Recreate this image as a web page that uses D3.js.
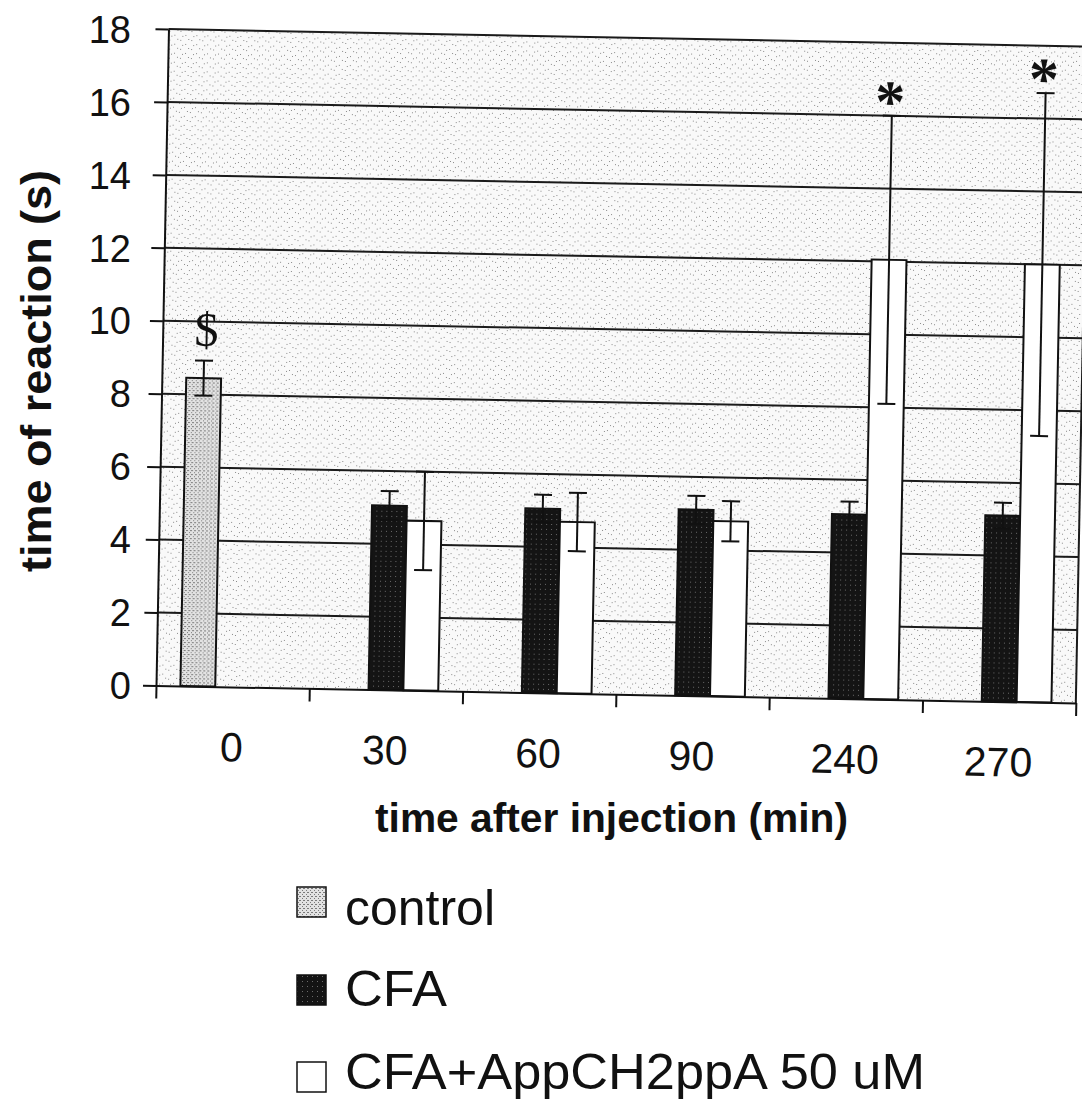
<!DOCTYPE html>
<html>
<head>
<meta charset="utf-8">
<script src="https://cdn.jsdelivr.net/npm/d3@7"></script>
<style>
  html, body { margin: 0; padding: 0; background: #fff; }
  svg { display: block; }
</style>
</head>
<body>
<svg id="chart" width="1082" height="1102"></svg>
<script>
// ---------------- data ----------------
const categories = ["0", "30", "60", "90", "240", "270"];
const seriesNames = ["control", "CFA", "CFA+AppCH2ppA 50 uM"];
const controlMean = [8.45, null, null, null, null, null];
const controlErr  = [0.48, null, null, null, null, null];
const cfaMean     = [null, 5.05, 5.05, 5.1, 5.05, 5.1];
const cfaErr      = [null, 0.4, 0.38, 0.38, 0.35, 0.35];
const appMean     = [null, 4.65, 4.7, 4.8, 12.05, 12.0];
const appErr      = [null, 1.35, 0.8, 0.55, 3.95, 4.7];
const yTicks      = [0, 2, 4, 6, 8, 10, 12, 14, 16, 18];
const annotations = [
  { cat: "0",   series: "control",              text: "$" },
  { cat: "240", series: "CFA+AppCH2ppA 50 uM",  text: "*" },
  { cat: "270", series: "CFA+AppCH2ppA 50 uM",  text: "*" }
];
const xTitle = "time after injection (min)";
const yTitle = "time of reaction (s)";

// ---------------- layout ----------------
const ox = 156, oy = 685.5, theta = 1.09;
const plotW = 920, plotH = 656.6;
const rad = theta * Math.PI / 180, cs = Math.cos(rad), sn = Math.sin(rad);

const svg = d3.select("#chart");
const defs = svg.append("defs");

// background speckle pattern
const bg = defs.append("pattern").attr("id", "bgPat").attr("patternUnits", "userSpaceOnUse")
  .attr("width", 11).attr("height", 9);
bg.append("rect").attr("width", 11).attr("height", 9).attr("fill", "#f9f9f9");
[[1,2],[6,6],[9,1],[3,7]].forEach(p => bg.append("rect").attr("x", p[0]).attr("y", p[1])
  .attr("width", 1).attr("height", 1).attr("fill", "#8a8a8a"));

const cp = defs.append("pattern").attr("id", "ctrlPat").attr("patternUnits", "userSpaceOnUse")
  .attr("width", 4).attr("height", 4);
cp.append("rect").attr("width", 4).attr("height", 4).attr("fill", "#e2e2e2");
[[0,0],[2,2],[3,0]].forEach(p => cp.append("rect").attr("x", p[0]).attr("y", p[1])
  .attr("width", 1).attr("height", 1).attr("fill", "#7a7a7a"));

const fp = defs.append("pattern").attr("id", "cfaPat").attr("patternUnits", "userSpaceOnUse")
  .attr("width", 5).attr("height", 5);
fp.append("rect").attr("width", 5).attr("height", 5).attr("fill", "#141414");
[[2,1]].forEach(p => fp.append("rect").attr("x", p[0]).attr("y", p[1])
  .attr("width", 1).attr("height", 1).attr("fill", "#6a6a6a"));

const fills = { "control": "url(#ctrlPat)", "CFA": "url(#cfaPat)", "CFA+AppCH2ppA 50 uM": "#ffffff" };

const x = d3.scaleBand().domain(categories).range([0, plotW]).paddingInner(0).paddingOuter(0);
const xs = d3.scaleBand().domain(seriesNames).range([0, x.bandwidth()]).paddingInner(0).paddingOuter(0.7);
const y = d3.scaleLinear().domain([0, 18]).range([0, -plotH]);
const xLin = d3.scaleLinear().domain([0, categories.length]).range([0, plotW]);

const g = svg.append("g").attr("transform", `translate(${ox},${oy}) rotate(${theta})`);

g.append("rect").attr("x", 0).attr("y", -plotH).attr("width", plotW).attr("height", plotH)
  .attr("fill", "url(#bgPat)");

// gridlines
g.append("g").selectAll("line").data(yTicks.filter(v => v > 0)).join("line")
  .attr("x1", 0).attr("x2", plotW).attr("y1", d => y(d)).attr("y2", d => y(d))
  .attr("stroke", "#1a1a1a").attr("stroke-width", 2);

// right border
g.append("line").attr("x1", plotW).attr("x2", plotW).attr("y1", 0).attr("y2", -plotH)
  .attr("stroke", "#1a1a1a").attr("stroke-width", 2);

// bars
const seriesData = [
  { name: "control", mean: controlMean, err: controlErr },
  { name: "CFA", mean: cfaMean, err: cfaErr },
  { name: "CFA+AppCH2ppA 50 uM", mean: appMean, err: appErr }
];
const barRows = [];
seriesData.forEach(s => categories.forEach((c, i) => {
  if (s.mean[i] != null) barRows.push({ series: s.name, cat: c, v: s.mean[i], e: s.err[i] });
}));

g.append("g").selectAll("rect").data(barRows).join("rect")
  .attr("x", d => x(d.cat) + xs(d.series))
  .attr("y", d => y(d.v))
  .attr("width", xs.bandwidth())
  .attr("height", d => y(0) - y(d.v))
  .attr("fill", d => fills[d.series])
  .attr("stroke", "#111").attr("stroke-width", 2);

// error bars
const cap = 9;
const eg = g.append("g").attr("stroke", "#111").attr("stroke-width", 2);
barRows.forEach(d => {
  const cx = x(d.cat) + xs(d.series) + xs.bandwidth() / 2;
  eg.append("line").attr("x1", cx).attr("x2", cx).attr("y1", y(d.v - d.e)).attr("y2", y(d.v + d.e));
  eg.append("line").attr("x1", cx - cap).attr("x2", cx + cap).attr("y1", y(d.v + d.e)).attr("y2", y(d.v + d.e));
  eg.append("line").attr("x1", cx - cap).attr("x2", cx + cap).attr("y1", y(d.v - d.e)).attr("y2", y(d.v - d.e));
});

// y axis (ticks + line)
g.append("g").call(d3.axisLeft(y).tickValues(yTicks).tickSize(13).tickSizeOuter(0).tickFormat(""))
  .call(a => a.selectAll("line,path").attr("stroke", "#111").attr("stroke-width", 2));

// x axis (boundary ticks + line)
g.append("g").call(d3.axisBottom(xLin).tickValues(d3.range(categories.length + 1)).tickSize(13).tickSizeOuter(0).tickFormat(""))
  .call(a => a.selectAll("line,path").attr("stroke", "#111").attr("stroke-width", 2));

// x tick labels
g.append("g").call(d3.axisBottom(x).tickSize(0).tickPadding(45.5))
  .call(a => a.select(".domain").remove())
  .call(a => a.selectAll("text").attr("font-family", "Liberation Sans, Arial, sans-serif")
    .attr("font-size", 41).attr("fill", "#111"));

// annotations
annotations.forEach(an => {
  const idx = categories.indexOf(an.cat);
  const s = seriesData.find(t => t.name === an.series);
  const top = s.mean[idx] + s.err[idx];
  const cx = x(an.cat) + xs(an.series) + xs.bandwidth() / 2;
  const isStar = an.text === "*";
  g.append("text").attr("x", cx + (isStar ? -2 : 2)).attr("y", y(top) + (isStar ? 6 : -15))
    .attr("text-anchor", "middle")
    .attr("font-family", "Liberation Serif, Times New Roman, serif")
    .attr("font-weight", isStar ? "bold" : "normal")
    .attr("font-size", isStar ? 60 : 48)
    .attr("fill", "#111").text(an.text);
});

// y tick labels (unrotated, right aligned)
svg.append("g").selectAll("text").data(yTicks).join("text")
  .attr("x", 131).attr("y", d => oy + y(d) * cs)
  .attr("dy", "0.36em").attr("text-anchor", "end")
  .attr("font-family", "Liberation Sans, Arial, sans-serif").attr("font-size", 38)
  .attr("fill", "#111").text(d => d);

// axis titles
svg.append("text").attr("x", 611.5).attr("y", 832).attr("text-anchor", "middle")
  .attr("font-family", "Liberation Sans, Arial, sans-serif").attr("font-weight", "bold")
  .attr("font-size", 40).attr("fill", "#111")
  .attr("textLength", 473).attr("lengthAdjust", "spacingAndGlyphs").text(xTitle);

svg.append("text").attr("transform", "translate(51,371) rotate(-90)").attr("text-anchor", "middle")
  .attr("font-family", "Liberation Sans, Arial, sans-serif").attr("font-weight", "bold")
  .attr("font-size", 43).attr("fill", "#111")
  .attr("textLength", 402).attr("lengthAdjust", "spacingAndGlyphs").text(yTitle);

// legend
const legendTop = [887, 975, 1062];
const legendBase = [925, 1006, 1089];
const legendWidth = [150, 102, 580];
const lg = svg.append("g");
seriesNames.forEach((name, i) => {
  lg.append("rect").attr("x", 297).attr("y", legendTop[i]).attr("width", 29).attr("height", 30)
    .attr("fill", fills[name]).attr("stroke", "#111").attr("stroke-width", 1.5);
  lg.append("text").attr("x", 345).attr("y", legendBase[i])
    .attr("font-family", "Liberation Sans, Arial, sans-serif").attr("font-size", 50)
    .attr("fill", "#111").attr("textLength", legendWidth[i]).attr("lengthAdjust", "spacingAndGlyphs")
    .text(name);
});
</script>
</body>
</html>
